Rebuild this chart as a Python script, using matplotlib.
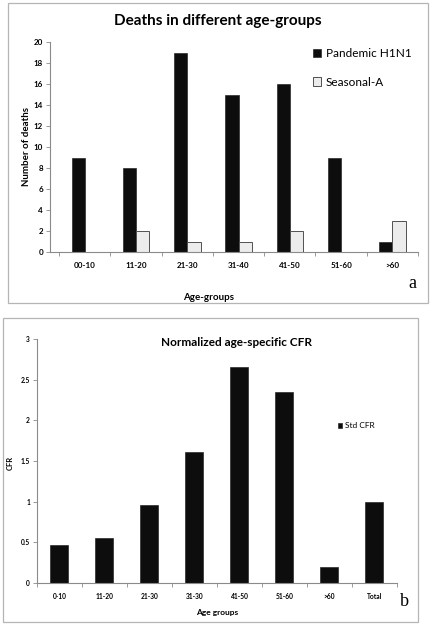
#!/usr/bin/env python3
import matplotlib
matplotlib.use('Agg')
import matplotlib.pyplot as plt
from matplotlib.patches import Rectangle
import numpy as np

# panel a data
groups_a = ['00-10', '11-20', '21-30', '31-40', '41-50', '51-60', '>60']
h1n1 = [9, 8, 19, 15, 16, 9, 1]
seasonal = [0, 2, 1, 1, 2, 0, 3]

# panel b data
groups_b = ['0-10', '11-20', '21-30', '31-30', '41-50', '51-60', '>60', 'Total']
std_cfr = [0.47, 0.55, 0.96, 1.61, 2.65, 2.35, 0.20, 1.0]

W, H = 431, 625
plt.rcParams['font.family'] = ['Lato', 'DejaVu Sans']
fig = plt.figure(figsize=(W / 100, H / 100), dpi=100)
fig.patch.set_facecolor('white')

def fx(x): return x / W
def fy(y): return 1 - y / H

AXC = '#8a8a8a'

def style_axes(ax, tick_fs):
    for s in ['top', 'right']:
        ax.spines[s].set_visible(False)
    for s in ['left', 'bottom']:
        ax.spines[s].set_color(AXC)
        ax.spines[s].set_linewidth(0.8)
    ax.tick_params(axis='y', colors=AXC, labelcolor='black', labelsize=tick_fs,
                   length=3, width=0.6, direction='out', pad=2)
    ax.tick_params(axis='x', which='major', length=0, labelcolor='black',
                   labelsize=tick_fs, pad=7)
    ax.tick_params(axis='x', which='minor', colors=AXC, length=3, width=0.6,
                   direction='out')

# panel borders
fig.patches.append(Rectangle((fx(8), fy(303)), fx(428) - fx(8), fy(3) - fy(303),
                             transform=fig.transFigure, fill=False,
                             edgecolor='#b5b5b5', linewidth=0.9))
fig.patches.append(Rectangle((fx(3), fy(622)), fx(418) - fx(3), fy(318) - fy(622),
                             transform=fig.transFigure, fill=False,
                             edgecolor='#b5b5b5', linewidth=0.9))

# ---- panel a ----
ax1 = fig.add_axes([fx(50), fy(252), fx(418) - fx(50), fy(42) - fy(252)])
xa = np.arange(len(groups_a))
bw = 0.26
b1 = ax1.bar(xa - bw / 2, h1n1, bw, color='#0d0d0d', edgecolor='#2a2a2a', linewidth=0.5,
             label='Pandemic H1N1')
b2 = ax1.bar(xa + bw / 2, seasonal, bw, color='#ececec', edgecolor='#505050', linewidth=0.7,
             label='Seasonal-A')
ax1.set_xlim(-0.68, len(groups_a) - 0.5)
ax1.set_ylim(0, 20)
ax1.set_yticks(range(0, 21, 2))
ax1.set_xticks(xa)
ax1.set_xticklabels(groups_a)
ax1.set_xticks(np.arange(-0.5, len(groups_a), 1), minor=True)
style_axes(ax1, 5.8)
for lab in ax1.get_xticklabels() + ax1.get_yticklabels():
    lab.set_fontweight('bold')
ax1.legend(handles=[b1, b2], loc='upper left', bbox_to_anchor=(0.685, 1.02),
           frameon=False, fontsize=8.5, handlelength=0.7, handleheight=0.7,
           handletextpad=0.4, labelspacing=1.45)

fig.text(fx(218), fy(21), 'Deaths in different age-groups', ha='center', va='center',
         fontsize=11, fontweight='bold')
fig.text(fx(27), fy(147), 'Number of deaths', ha='center', va='center', rotation=90,
         fontsize=7, fontweight='bold')
fig.text(fx(209), fy(297), 'Age-groups', ha='center', va='center',
         fontsize=7, fontweight='bold')
fig.text(fx(412), fy(283), 'a', ha='center', va='center', fontsize=13,
         family='Liberation Serif')

# ---- panel b ----
ax2 = fig.add_axes([fx(37), fy(583), fx(397) - fx(37), fy(339) - fy(583)])
xb = np.arange(len(groups_b))
b3 = ax2.bar(xb, std_cfr, 0.4, color='#0d0d0d', edgecolor='#2a2a2a', linewidth=0.5,
             label='Std CFR')
ax2.set_xlim(-0.5, len(groups_b) - 0.5)
ax2.set_ylim(0, 3)
ax2.set_yticks([0, 0.5, 1, 1.5, 2, 2.5, 3])
ax2.set_yticklabels(['0', '0.5', '1', '1.5', '2', '2.5', '3'])
ax2.set_xticks(xb)
ax2.set_xticklabels(groups_b)
ax2.set_xticks(np.arange(-0.5, len(groups_b), 1), minor=True)
style_axes(ax2, 4.8)
for lab in ax2.get_xticklabels() + ax2.get_yticklabels():
    lab.set_fontweight('bold')
ax2.legend(handles=[b3], loc='upper left', bbox_to_anchor=(0.815, 0.69),
           frameon=False, fontsize=6, handlelength=0.5, handleheight=0.5,
           handletextpad=0.3)

fig.text(fx(237), fy(343), 'Normalized age-specific CFR', ha='center', va='center',
         fontsize=8.5, fontweight='bold')
fig.text(fx(10), fy(463), 'CFR', ha='center', va='center', rotation=90,
         fontsize=5.5, fontweight='bold')
fig.text(fx(217), fy(612), 'Age groups', ha='center', va='center',
         fontsize=6, fontweight='bold')
fig.text(fx(404), fy(601), 'b', ha='center', va='center', fontsize=13,
         family='Liberation Serif')

fig.savefig('out.png', dpi=100)
